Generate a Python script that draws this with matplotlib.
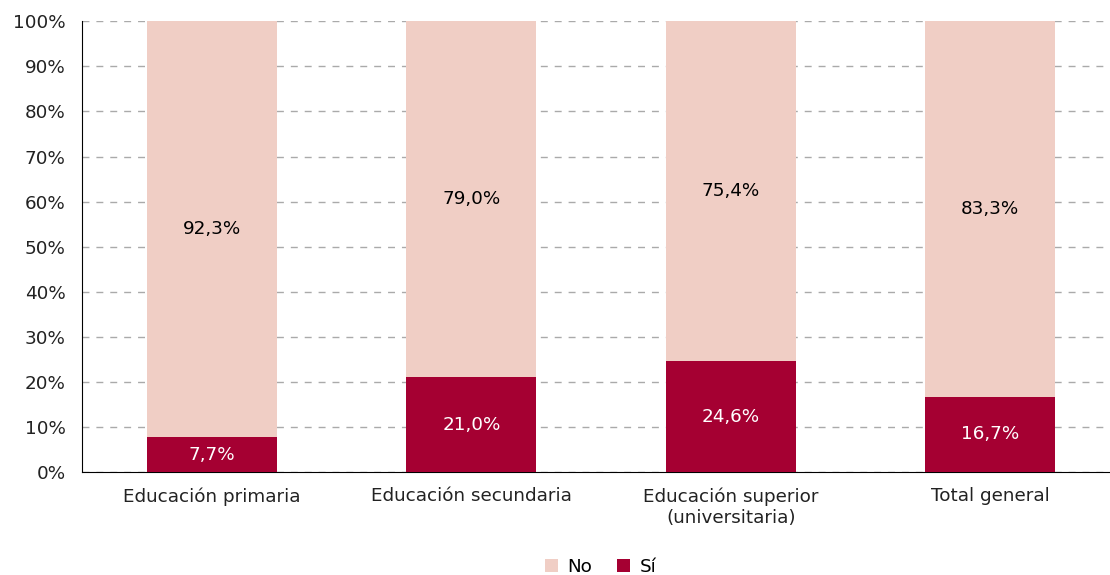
import numpy as np
import matplotlib.pyplot as plt
from matplotlib.ticker import FuncFormatter

# Porcentajes por nivel educativo
categorias = ['Educación primaria', 'Educación secundaria',
              'Educación superior\n(universitaria)', 'Total general']
si = np.array([7.7, 21.0, 24.6, 16.7])
no = np.array([92.3, 79.0, 75.4, 83.3])

col_no = '#F0CEC5'
col_si = '#A50032'
fs = 13.2

fig = plt.figure(figsize=(11.1, 5.75), dpi=100)
ax = fig.add_axes([0.074, 0.179, 0.935, 0.784])

x = np.arange(len(categorias))
b_si = ax.bar(x, si, width=0.5, color=col_si, label='Sí', zorder=3)
b_no = ax.bar(x, no, width=0.5, bottom=si, color=col_no, label='No', zorder=3)

def fmt(v):
    return f'{v:.1f}%'.replace('.', ',')

for i in range(len(x)):
    ax.text(x[i], si[i] / 2, fmt(si[i]), ha='center', va='center',
            color='white', fontsize=fs, zorder=4)
    ax.text(x[i], si[i] + no[i] / 2, fmt(no[i]), ha='center', va='center',
            color='black', fontsize=fs, zorder=4)

ax.set_xlim(-0.5, 3.5)
ax.set_ylim(0, 100)
ax.set_yticks(np.arange(0, 101, 10))
ax.yaxis.set_major_formatter(FuncFormatter(lambda v, p: f'{v:.0f}%'))
ax.set_xticks(x)
ax.set_xticklabels(categorias)
ax.tick_params(axis='both', length=0, labelsize=fs, colors='#222222')
ax.tick_params(axis='x', pad=11)
ax.tick_params(axis='y', pad=12)
ax.grid(axis='y', linestyle=(0, (5, 5)), color='#aaaaaa', linewidth=1, zorder=0)

for s in ['top', 'right']:
    ax.spines[s].set_visible(False)
ax.spines['left'].set_color('black')
ax.spines['bottom'].set_color('black')

handles = [b_no, b_si]
fig.legend(handles, ['No', 'Sí'], loc='center', bbox_to_anchor=(0.541, 0.014),
           ncol=2, frameon=False, fontsize=fs, handlelength=0.7,
           handleheight=0.7, columnspacing=1.4, handletextpad=0.5)

fig.savefig('out.png', dpi=100)
